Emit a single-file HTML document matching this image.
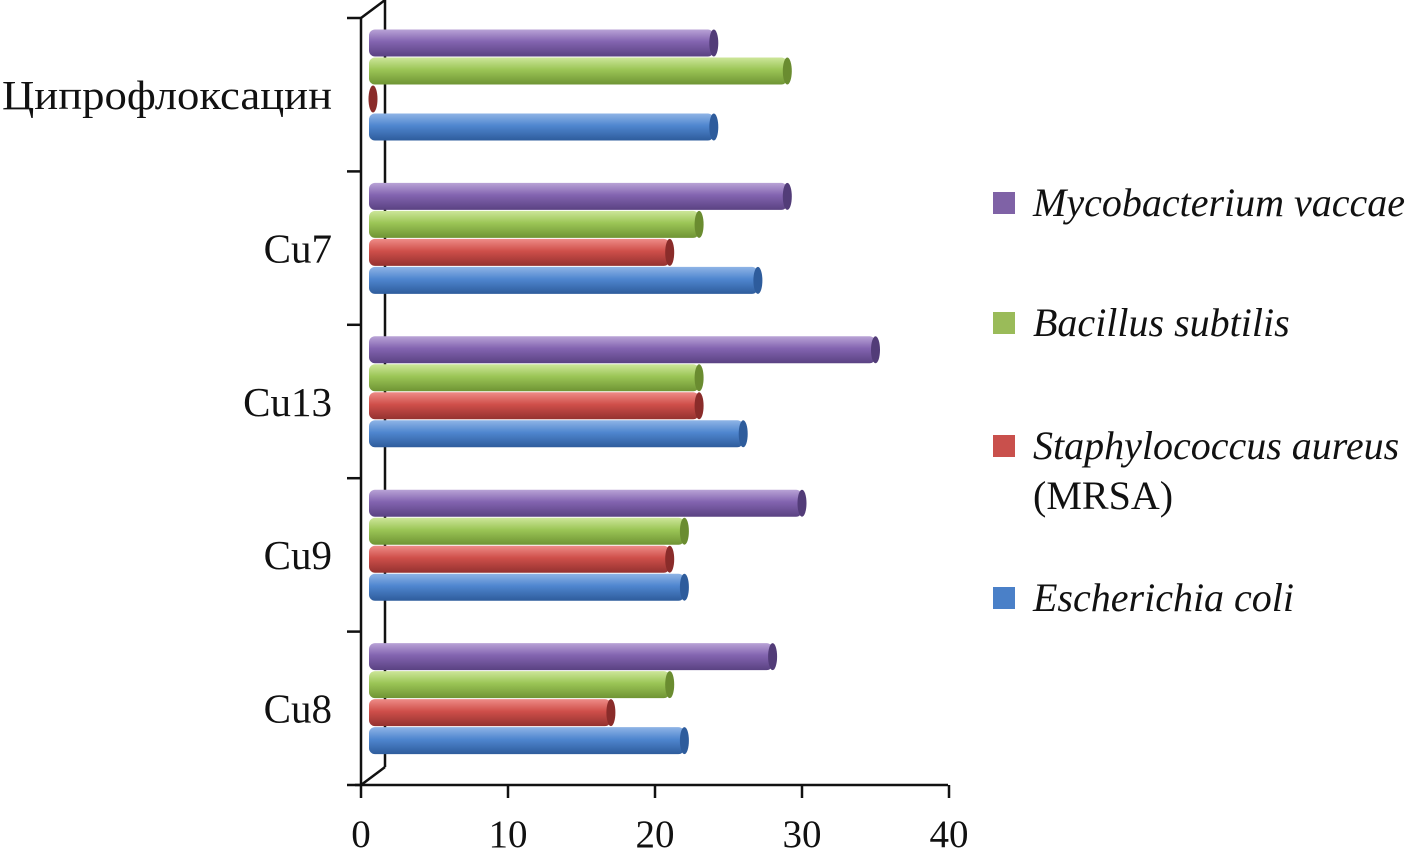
<!DOCTYPE html>
<html><head><meta charset="utf-8"><style>
body{margin:0;background:#fff}
text{font-family:"Liberation Serif",serif;fill:#111}
</style></head><body>
<svg width="1405" height="860" viewBox="0 0 1405 860">
<defs>
<linearGradient id="g0" x1="0" y1="0" x2="0" y2="1"><stop offset="0" stop-color="#8fb4e6"/><stop offset="0.45" stop-color="#4f86cf"/><stop offset="1" stop-color="#2e5c9c"/></linearGradient>
<linearGradient id="g1" x1="0" y1="0" x2="0" y2="1"><stop offset="0" stop-color="#ee8c88"/><stop offset="0.45" stop-color="#cf4f4a"/><stop offset="1" stop-color="#943230"/></linearGradient>
<linearGradient id="g2" x1="0" y1="0" x2="0" y2="1"><stop offset="0" stop-color="#cde69a"/><stop offset="0.45" stop-color="#9bc556"/><stop offset="1" stop-color="#6f9434"/></linearGradient>
<linearGradient id="g3" x1="0" y1="0" x2="0" y2="1"><stop offset="0" stop-color="#b9a3d6"/><stop offset="0.45" stop-color="#8364b0"/><stop offset="1" stop-color="#5a4282"/></linearGradient>
</defs>
<g id="axes" stroke="#111" stroke-width="2.5" fill="none">
<line x1="361" y1="18" x2="361" y2="785"/>
<line x1="385" y1="0" x2="385" y2="767"/>
<line x1="361" y1="18" x2="385" y2="0"/>
<line x1="361" y1="785" x2="385" y2="767"/>
<line x1="355" y1="785" x2="948" y2="785"/>
</g>
<g id="ticks"></g>
<g id="bars"></g>
<g id="legend"></g>
</svg>
<script>
const categories=["Ципрофлоксацин","Cu7","Cu13","Cu9","Cu8"];
const seriesNames=["Escherichia coli","Staphylococcus aureus","Bacillus subtilis","Mycobacterium vaccae"];
const ecoli=[24,27,26,22,22];
const saureus=[0,21,23,21,17];
const bsubtilis=[29,23,23,22,21];
const mvaccae=[24,29,35,30,28];
const xTicks=[0,10,20,30,40];
const series=[ecoli,saureus,bsubtilis,mvaccae];
const NS="http://www.w3.org/2000/svg";
const x=v=>361+v*14.7;
const catTop=i=>18+i*153.4;
function mk(tag,attrs,parent){const e=document.createElementNS(NS,tag);for(const k in attrs)e.setAttribute(k,attrs[k]);parent.appendChild(e);return e;}
const ticks=document.getElementById('ticks'),bars=document.getElementById('bars'),legend=document.getElementById('legend');
for(let i=0;i<=categories.length;i++){const y=catTop(i);const t=mk('line',{x1:347,y1:y,x2:361,y2:y,stroke:'#111','stroke-width':2.5},ticks);

}
categories.forEach((c,i)=>{const a={x:332,y:catTop(i)+91,'text-anchor':'end','font-size':41};if(i===0){a.textLength=330;a.lengthAdjust='spacingAndGlyphs';}
const t=mk('text',a,ticks);t.textContent=c;

});
xTicks.forEach(v=>{const l=mk('line',{x1:x(v),y1:785,x2:x(v),y2:798,stroke:'#111','stroke-width':2.5},ticks);


const t=mk('text',{x:x(v),y:847,'text-anchor':'middle','font-size':39},ticks);t.textContent=v;

});
const bh=27;
categories.forEach((c,i)=>{for(let s=0;s<4;s++){const v=series[s][i];const yc=catTop(i)+25+(3-s)*28;const xe=x(v);
const g=mk('g',{},bars);


if(v>0){mk('rect',{x:369,y:yc-bh/2,width:Math.max(0,xe-369),height:bh,rx:6,fill:'url(#g'+s+')'},g);}
mk('ellipse',{cx:Math.max(xe,373),cy:yc,rx:4.5,ry:bh/2,fill:['#2e5c9c','#8a2c2a','#6a8c30','#523c78'][s]},g);}});
const ly=[203,323,446,598];
for(let s=3;s>=0;s--){const y=ly[3-s];const r=mk('rect',{x:993,y:y-11,width:22,height:22,fill:['#4a80c8','#c9504c','#9abb59','#7f62a6'][s]},legend);


const t=mk('text',{x:1033,y:y+13,'font-size':40,'font-style':'italic'},legend);t.textContent=seriesNames[s];

}
const m=mk('text',{x:1033,y:509,'font-size':40},legend);m.textContent='(MRSA)';


</script>
</body></html>
